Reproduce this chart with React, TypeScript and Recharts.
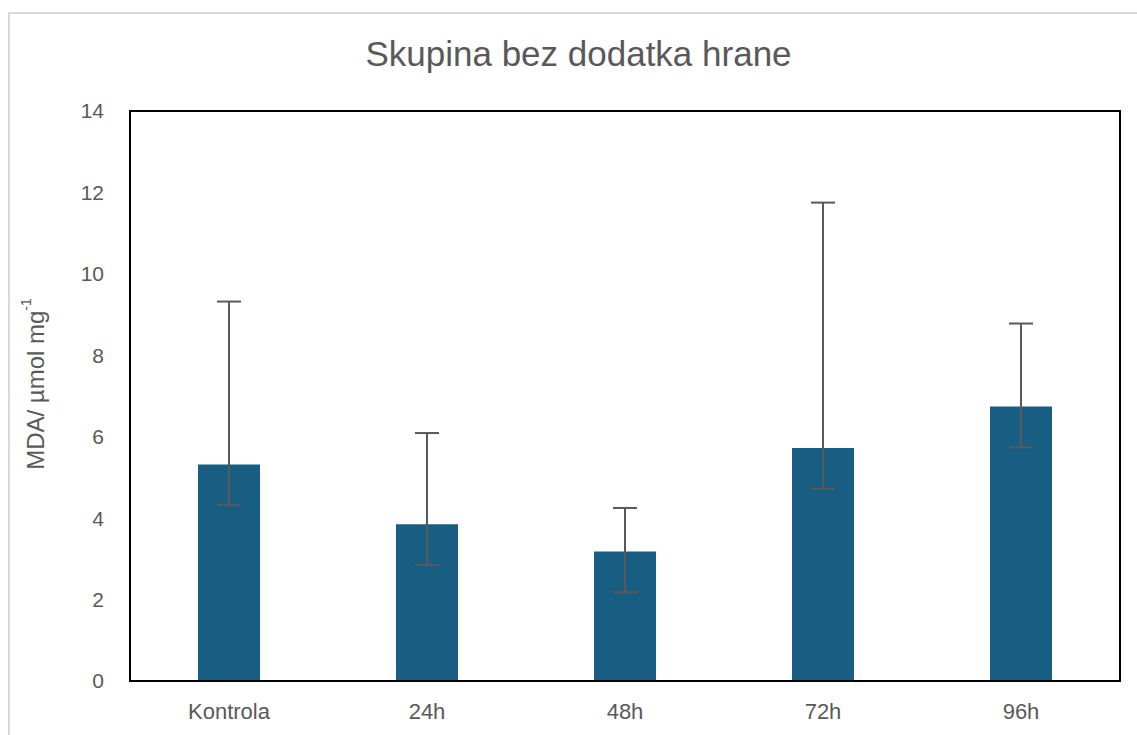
import React from "react";
import { BarChart, Bar, XAxis, YAxis, ErrorBar, ReferenceArea } from "recharts";

const categories = ["Kontrola", "24h", "48h", "72h", "96h"];
const values = [5.32, 3.85, 3.18, 5.72, 6.74];
const errMinus = [1.0, 1.0, 1.0, 1.0, 1.0];
const errPlus = [4.0, 2.24, 1.07, 6.03, 2.04];
const yTicks = [0, 2, 4, 6, 8, 10, 12, 14];

const title = "Skupina bez dodatka hrane";

const data = categories.map((c, i) => ({
  name: c,
  value: values[i],
  err: [errMinus[i], errPlus[i]],
}));

const FONT = "'Liberation Sans', Arial, sans-serif";
const TEXT = "#595959";

const YLabel = (props: any) => {
  const vb = props.viewBox || {};
  const cx = 35;
  const cy = vb.y + vb.height / 2 - 12;
  return (
    <text
      x={cx}
      y={cy}
      transform={`rotate(-90, ${cx}, ${cy})`}
      textAnchor="middle"
      dominantBaseline="central"
      fill={TEXT}
      fontSize={24}
      fontFamily={FONT}
    >
      <tspan>MDA/ µmol mg</tspan>
      <tspan fontSize={14} dy={-9}>-1</tspan>
    </text>
  );
};

export default function App() {
  return (
    <div
      style={{
        position: "fixed",
        left: 0,
        top: 0,
        width: 1137,
        height: 735,
        background: "#ffffff",
        overflow: "hidden",
      }}
    >
      <div
        style={{
          position: "absolute",
          left: 8,
          top: 12,
          width: 1150,
          height: 760,
          border: "2px solid #d9d9d9",
          boxSizing: "border-box",
        }}
      />
      <div
        style={{
          position: "absolute",
          left: 0,
          top: 34,
          width: 1137,
          textAlign: "center",
          fontFamily: FONT,
          fontSize: 35,
          color: TEXT,
          paddingLeft: 20,
          boxSizing: "border-box",
        }}
      >
        {title}
      </div>
      <div style={{ position: "absolute", left: 0, top: 0 }}>
        <BarChart
          width={1137}
          height={735}
          data={data}
          margin={{ top: 111, right: 17, bottom: 24, left: 70 }}
          barSize={62}
        >
          <XAxis
            dataKey="name"
            axisLine={{ stroke: "#000000", strokeWidth: 2 }}
            tickLine={false}
            tickSize={0}
            tickMargin={22}
            height={30}
            tick={{ fill: TEXT, fontSize: 22, fontFamily: FONT }}
          />
          <YAxis
            domain={[0, 14]}
            ticks={yTicks}
            interval={0}
            axisLine={{ stroke: "#000000", strokeWidth: 2 }}
            tickLine={false}
            tickSize={0}
            tickMargin={26}
            width={60}
            tick={{ fill: TEXT, fontSize: 21, fontFamily: FONT }}
            label={<YLabel />}
          />
          <ReferenceArea
            x1={categories[0]}
            x2={categories[categories.length - 1]}
            y1={0}
            y2={14}
            fill="none"
            fillOpacity={0}
            stroke="#000000"
            strokeWidth={2}
            strokeOpacity={1}
            ifOverflow="visible"
          />
          <Bar dataKey="value" fill="#175E82" isAnimationActive={false}>
            <ErrorBar
              dataKey="err"
              width={12}
              stroke="#595959"
              strokeWidth={2}
              direction="y"
            />
          </Bar>
        </BarChart>
      </div>
    </div>
  );
}
